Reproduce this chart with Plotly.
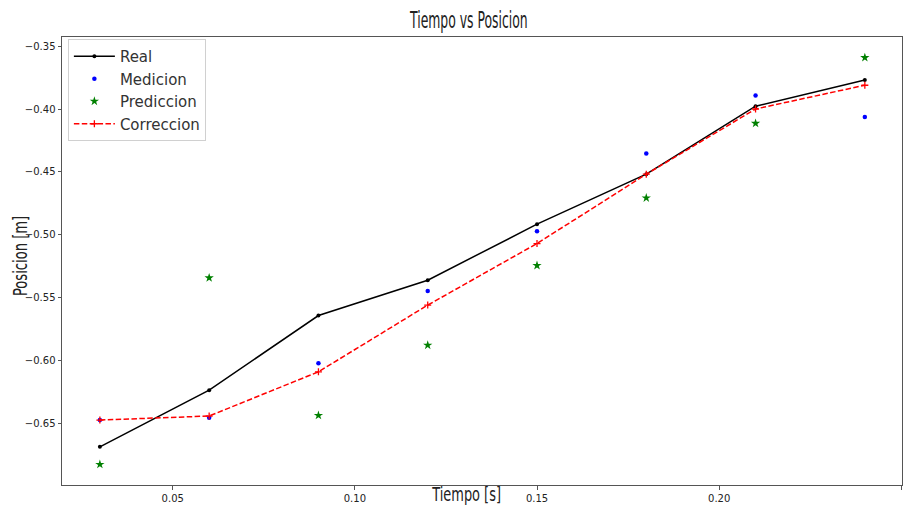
import plotly.graph_objects as go

tiempo = [0.03, 0.06, 0.09, 0.12, 0.15, 0.18, 0.21, 0.24]
real = [-0.6688, -0.6237, -0.5643, -0.5362, -0.4916, -0.4518, -0.3977, -0.3768]
medicion = [-0.6475, -0.6457, -0.6022, -0.5447, -0.4972, -0.4354, -0.3892, -0.4062]
prediccion = [-0.6828, -0.5343, -0.6438, -0.5879, -0.5245, -0.4707, -0.4113, -0.3590]
correccion = [-0.6475, -0.6443, -0.6091, -0.5560, -0.5070, -0.4518, -0.3999, -0.3810]

x_ticks = [0.05, 0.10, 0.15, 0.20, 0.25]
y_ticks = [-0.65, -0.60, -0.55, -0.50, -0.45, -0.40, -0.35]

cond = "DejaVu Sans Condensed, Liberation Sans Narrow, DejaVu Sans"

fig = go.Figure()
fig.add_trace(go.Scatter(x=tiempo, y=real, name="Real", mode="lines+markers",
                         line=dict(color="black", width=1.5),
                         marker=dict(color="black", size=4)))
fig.add_trace(go.Scatter(x=tiempo, y=medicion, name="Medicion", mode="markers",
                         marker=dict(color="blue", size=4.5)))
fig.add_trace(go.Scatter(x=tiempo, y=prediccion, name="Prediccion", mode="markers",
                         marker=dict(color="green", size=7, symbol="star")))
fig.add_trace(go.Scatter(x=tiempo, y=correccion, name="Correccion", mode="lines+markers",
                         line=dict(color="red", width=1.5, dash="5.5px,2.4px"),
                         marker=dict(color="red", size=5, symbol="cross-thin",
                                     line=dict(color="red", width=1.3))))

fig.update_layout(
    width=905, height=506,
    margin=dict(l=62, r=3, t=37, b=21),
    paper_bgcolor="white", plot_bgcolor="white",
    font=dict(family="DejaVu Sans", size=10, color="#222"),
    showlegend=True,
    legend=dict(x=0.007, y=(485 - 39) / 448, xanchor="left", yanchor="top",
                bgcolor="rgba(255,255,255,0.8)", bordercolor="#d0d0d0", borderwidth=1,
                font=dict(family="DejaVu Sans", size=15, color="#333"),
                itemwidth=41, tracegroupgap=0, entrywidth=112),
    annotations=[
        dict(text="Tiempo vs Posicion", xref="paper", yref="paper",
             x=(468 - 62) / 840, y=(485 - 20) / 448, xanchor="center", yanchor="middle",
             showarrow=False, font=dict(family=cond, size=23, color="#222")),
        dict(text="Tiempo [s]", xref="paper", yref="paper",
             x=(466 - 62) / 840, y=(485 - 494) / 448, xanchor="center", yanchor="middle",
             showarrow=False, font=dict(family=cond, size=20, color="#222")),
        dict(text="Posicion [m]", xref="paper", yref="paper",
             x=(20 - 62) / 840, y=(485 - 256) / 448, xanchor="center", yanchor="middle",
             textangle=-90, showarrow=False, font=dict(family=cond, size=20, color="#222")),
    ],
)
fig.update_xaxes(range=[0.0196, 0.2502], tickvals=x_ticks, tickformat=".2f",
                 showgrid=False, zeroline=False, showline=True, mirror=True,
                 linecolor="#555", linewidth=1, ticks="outside", ticklen=3.5,
                 tickcolor="#555")
fig.update_yaxes(range=[-0.6992, -0.3426], tickvals=y_ticks, tickformat=".2f",
                 showgrid=False, zeroline=False, showline=True, mirror=True,
                 linecolor="#555", linewidth=1, ticks="outside", ticklen=3.5,
                 tickcolor="#555")

post = """
document.body.style.margin='0';
var gd = document.getElementById('{plot_id}');
var factors = [0.6, 0.72, 0.73];
function condense(){
  var texts = gd.querySelectorAll('.annotation-text');
  texts.forEach(function(t, i){
    var bb = t.getBBox();
    var cx = bb.x + bb.width / 2;
    var f = factors[i] || 1;
    t.setAttribute('transform', 'translate(' + cx + ',0) scale(' + f + ',1) translate(' + (-cx) + ',0)');
  });
}
condense();
setTimeout(condense, 30);
setTimeout(condense, 200);
"""

fig.write_html("out.html", post_script=post, config={"displayModeBar": False})
